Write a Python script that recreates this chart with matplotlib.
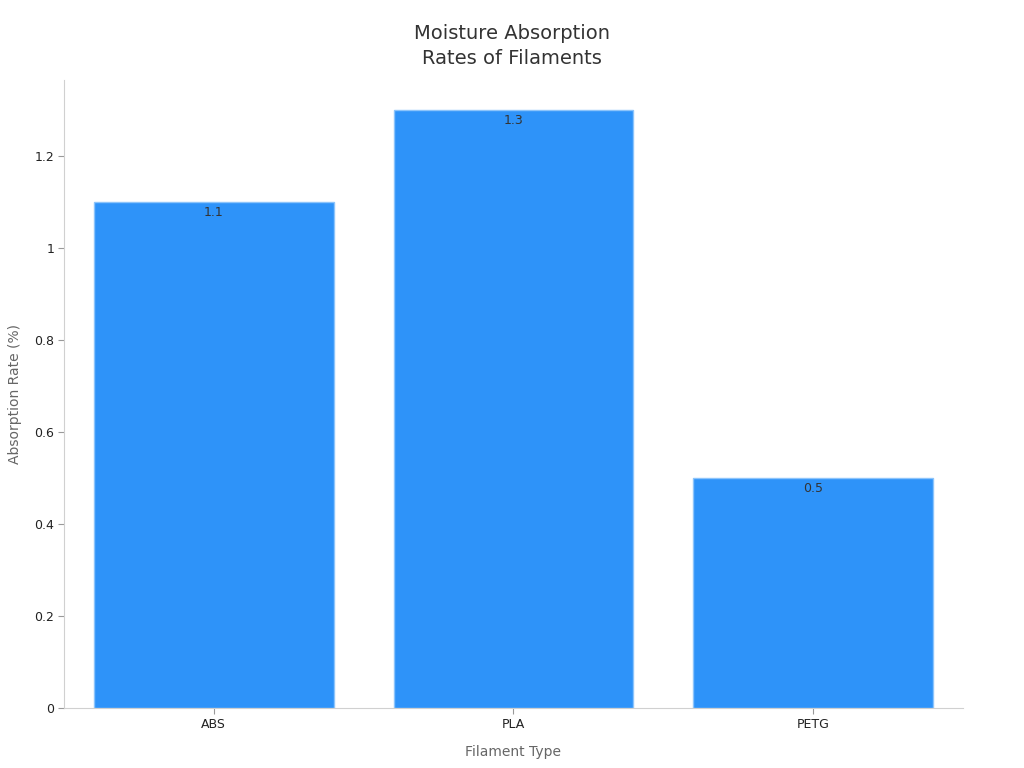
import matplotlib.pyplot as plt

categories = ["ABS", "PLA", "PETG"]
rates = [1.1, 1.3, 0.5]

fig = plt.figure(figsize=(10.24, 7.68), dpi=100)
ax = fig.add_axes([0.0625, 0.078, 0.8779, 0.818])

x = range(len(categories))
bars = ax.bar(x, rates, width=0.8, color="#2e93f9", edgecolor="#8cc4fb", linewidth=1)
for b, v in zip(bars, rates):
    ax.text(b.get_x() + b.get_width() / 2, v - 0.008, f"{v:g}", ha="center", va="top",
            fontsize=9, color="#333333")

ax.set_xlim(-0.5, 2.5)
ax.set_ylim(0, 1.366)
ax.set_xticks(list(x))
ax.set_xticklabels(categories)
ax.set_yticks([0, 0.2, 0.4, 0.6, 0.8, 1, 1.2])
ax.set_yticklabels(["0", "0.2", "0.4", "0.6", "0.8", "1", "1.2"])
ax.tick_params(axis="both", labelsize=9, colors="#999999", labelcolor="#222222", length=4, pad=3)

for s in ["top", "right"]:
    ax.spines[s].set_visible(False)
for s in ["left", "bottom"]:
    ax.spines[s].set_color("#d0d0d0")

ax.set_xlabel("Filament Type", fontsize=10, color="#666666", labelpad=10)
ax.set_ylabel("Absorption Rate (%)", fontsize=10, color="#666666", labelpad=9)
fig.text(0.5, 0.94, "Moisture Absorption\nRates of Filaments", ha="center", va="center",
         fontsize=14, color="#333333", linespacing=1.4)

fig.savefig("out.png", dpi=100)
